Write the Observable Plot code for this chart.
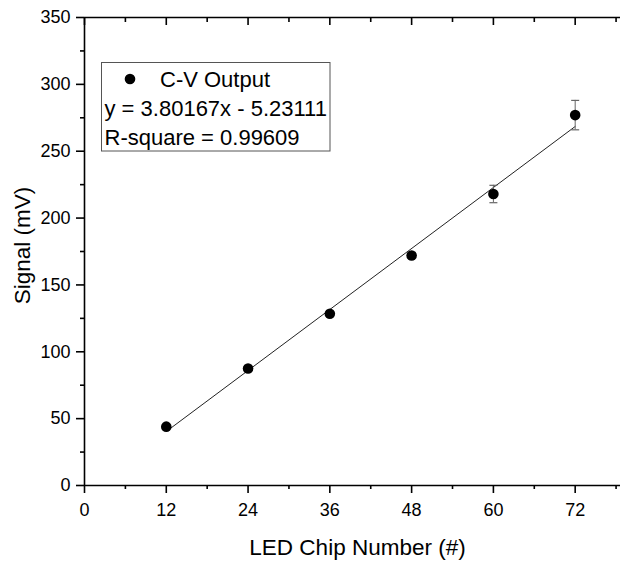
<!DOCTYPE html>
<html>
<head>
<meta charset="utf-8">
<script src="https://cdn.jsdelivr.net/npm/d3@7"></script>
<script src="https://cdn.jsdelivr.net/npm/@observablehq/plot@0.6"></script>
<style>
  html, body { margin: 0; padding: 0; background: white; }
  #chart { position: relative; width: 620px; height: 562px; overflow: hidden; }
</style>
</head>
<body>
<div id="chart"></div>
<script>
// ---- data ----
const chipNumbers = [12, 24, 36, 48, 60, 72];
const signalMV = [44, 87.5, 128.5, 172, 218, 277];
const signalErr = [1.5, 1.5, 1.5, 2, 6.5, 11];
const xMajorTicks = [0, 12, 24, 36, 48, 60, 72];
const xMinorTicks = [6, 18, 30, 42, 54, 66, 78];
const yMajorTicks = [0, 50, 100, 150, 200, 250, 300, 350];
const yMinorTicks = [25, 75, 125, 175, 225, 275, 325];
const fitSlope = 3.80167;
const fitIntercept = -5.23111;
const fitRange = [12, 72];
const legendLines = ["C-V Output", "y = 3.80167x - 5.23111", "R-square = 0.99609"];
const xLabel = "LED Chip Number (#)";
const yLabel = "Signal (mV)";

const points = chipNumbers.map((x, i) => ({x, y: signalMV[i], e: signalErr[i]}));
const fitLine = fitRange.map(x => ({x, y: fitSlope * x + fitIntercept}));

const capSymbol = {
  draw(context, size) {
    const w = Math.sqrt(size / Math.PI);
    context.moveTo(-w, 0);
    context.lineTo(w, 0);
  }
};

const blank = () => "";
const AX = {strokeWidth: 1.6, label: null};

const plot = Plot.plot({
  width: 620,
  height: 562,
  marginTop: 17,
  marginBottom: 77,
  marginLeft: 84,
  marginRight: 0,
  style: {fontFamily: "'Liberation Sans', Arial, sans-serif", fontSize: "18px", color: "black", background: "white"},
  x: {domain: [0, 80], range: [84, 84 + 80 * 6.815]},
  y: {domain: [0, 350]},
  marks: [
    // axes
    Plot.axisX({...AX, ticks: xMajorTicks, tickSize: 8, tickPadding: 10, tickFormat: d => String(d)}),
    Plot.axisX({...AX, ticks: xMinorTicks, tickSize: 4, tickFormat: blank}),
    Plot.axisX({...AX, anchor: "top", ticks: xMajorTicks, tickSize: -7, tickFormat: blank}),
    Plot.axisX({...AX, anchor: "top", ticks: xMinorTicks, tickSize: -4, tickFormat: blank}),
    Plot.axisY({...AX, ticks: yMajorTicks, tickSize: 8, tickPadding: 6, tickFormat: d => String(d)}),
    Plot.axisY({...AX, ticks: yMinorTicks, tickSize: 4, tickFormat: blank}),
    Plot.ruleY([0], {strokeWidth: 1.6}),
    Plot.ruleY([350], {strokeWidth: 1.6}),
    Plot.ruleX([0], {strokeWidth: 1.6}),
    // fit line
    Plot.line(fitLine, {x: "x", y: "y", stroke: "#222", strokeWidth: 1}),
    // error bars
    Plot.ruleX(points, {x: "x", y1: d => d.y - d.e, y2: d => d.y + d.e, stroke: "#666", strokeWidth: 1}),
    Plot.dot(points, {x: "x", y: d => d.y - d.e, r: 4, symbol: capSymbol, stroke: "#666", strokeWidth: 1.2}),
    Plot.dot(points, {x: "x", y: d => d.y + d.e, r: 4, symbol: capSymbol, stroke: "#666", strokeWidth: 1.2}),
    // points
    Plot.dot(points, {x: "x", y: "y", r: 5.3, fill: "black", stroke: "none"}),
    // axis titles
    Plot.text([xLabel], {frameAnchor: "bottom", dx: 357 - (84 + 620) / 2, dy: 69, fontSize: 22.5, lineAnchor: "bottom", text: d => d}),
    Plot.text([yLabel], {frameAnchor: "left", textAnchor: "middle", lineAnchor: "middle", dx: -62, dy: -6, rotate: -90, fontSize: 22.5, text: d => d})
  ]
});

document.getElementById("chart").appendChild(plot);

// legend box
const svg = d3.select(plot);
const lg = svg.append("g")
  .attr("font-family", "'Liberation Sans', Arial, sans-serif")
  .attr("font-size", 22)
  .attr("fill", "black")
  .attr("text-anchor", "start");
lg.append("rect").attr("x", 101.5).attr("y", 62.5).attr("width", 228.5).attr("height", 88.5)
  .attr("fill", "white").attr("stroke", "#555").attr("stroke-width", 1);
lg.append("circle").attr("cx", 130).attr("cy", 79).attr("r", 5.3).attr("fill", "black");
lg.append("text").attr("x", 160).attr("y", 86.5).attr("text-anchor", "start").text(legendLines[0]);
lg.append("text").attr("x", 104.5).attr("y", 116).attr("text-anchor", "start").text(legendLines[1]);
lg.append("text").attr("x", 104.5).attr("y", 145).attr("text-anchor", "start").text(legendLines[2]);
</script>
</body>
</html>
